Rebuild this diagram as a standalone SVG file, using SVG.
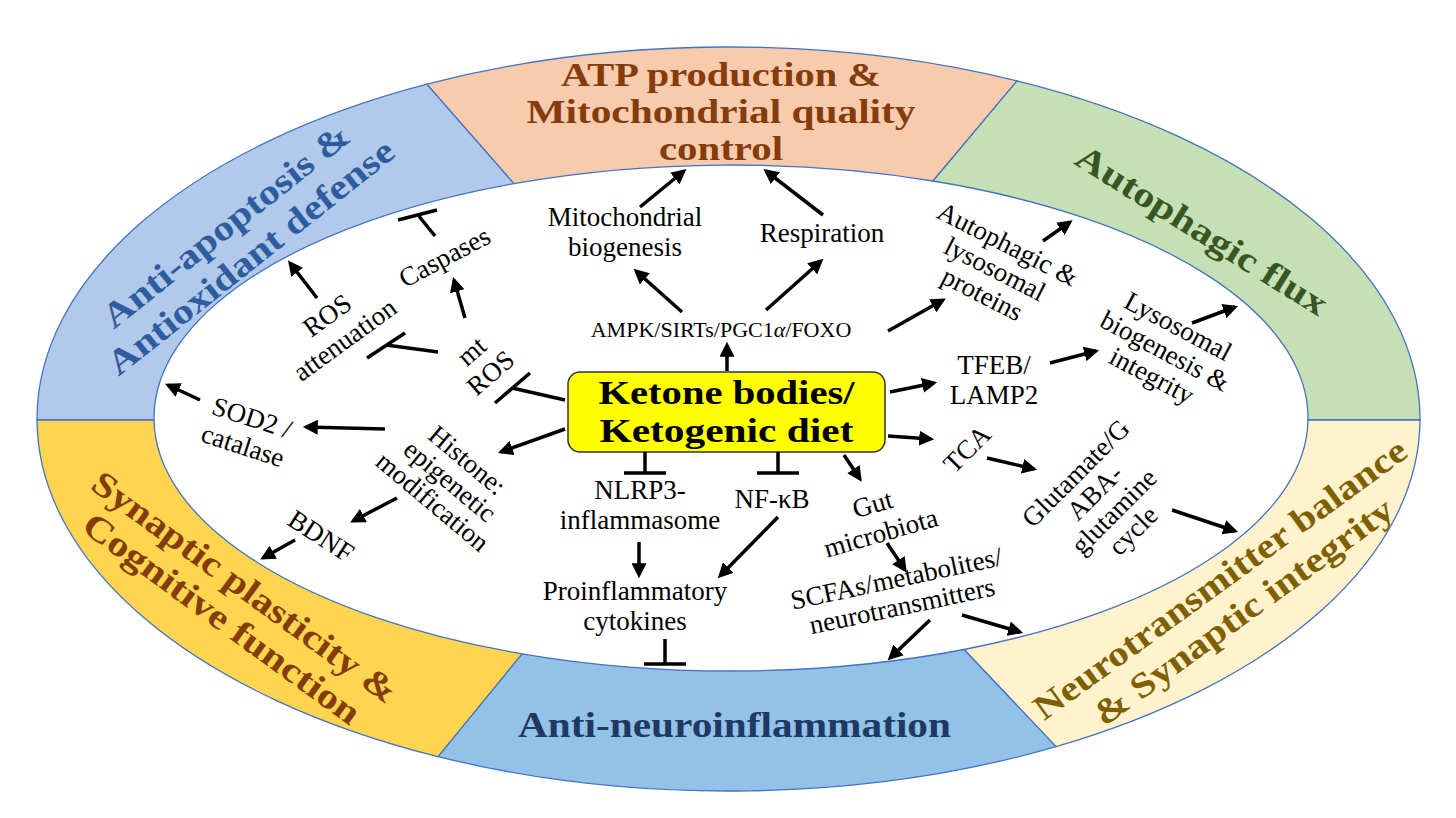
<svg xmlns="http://www.w3.org/2000/svg" width="1456" height="818" viewBox="0 0 1456 818">
<defs>
<marker id="ah" viewBox="0 0 14 14" markerWidth="15" markerHeight="15" refX="11" refY="7" orient="auto" markerUnits="userSpaceOnUse">
<path d="M0,0 L14,7 L0,14 z" fill="#000"/>
</marker>
<style>
.seg{stroke:#4472C4;stroke-width:1.3}
.ring{font-family:"Liberation Serif","DejaVu Serif",serif;font-weight:bold;font-size:35px;text-anchor:middle}
.lbl{font-family:"Liberation Serif","DejaVu Serif",serif;font-size:27px;text-anchor:middle;fill:#000}
.box{font-family:"Liberation Serif","DejaVu Serif",serif;font-weight:bold;font-size:34px;text-anchor:middle;fill:#000}
.ar{stroke:#000;stroke-width:3.5;fill:none;marker-end:url(#ah)}
.inh{stroke:#000;stroke-width:3.5;fill:none}
</style>
</defs>
<rect width="1456" height="818" fill="#fff"/>

<g id="ring-antiapoptosis">
<path class="seg" fill="#B1C9EA" d="M37,420 A691.5,372 0 0 1 427,84.2 L514,183.6 A577,253 0 0 0 154,420 Z"/>
<text class="ring" fill="#2E5C9E" transform="translate(238,241) rotate(-38.5)" x="0" y="-8" textLength="305" lengthAdjust="spacingAndGlyphs">Anti-apoptosis &amp;</text>
<text class="ring" fill="#2E5C9E" transform="translate(238,241) rotate(-38.5)" x="0" y="32" textLength="356" lengthAdjust="spacingAndGlyphs">Antioxidant defense</text>
</g>

<g id="ring-atp">
<path class="seg" fill="#F8CBAD" d="M427,84.2 A691.5,372 0 0 1 1017,80.9 L933,181 A577,253 0 0 0 514,183.6 Z"/>
<text class="ring" fill="#843C0C" x="721" y="86" style="font-size:33px" textLength="320" lengthAdjust="spacingAndGlyphs">ATP production &amp;</text>
<text class="ring" fill="#843C0C" x="721" y="123" style="font-size:33px" textLength="389" lengthAdjust="spacingAndGlyphs">Mitochondrial quality</text>
<text class="ring" fill="#843C0C" x="721" y="160" style="font-size:33px" textLength="124" lengthAdjust="spacingAndGlyphs">control</text>
</g>

<g id="ring-autophagic">
<path class="seg" fill="#C5E0B4" d="M1017,80.9 A691.5,372 0 0 1 1420,420 L1308,420 A577,253 0 0 0 933,181 Z"/>
<text class="ring" fill="#375623" transform="translate(1202,230) rotate(32)" x="0" y="12" textLength="290" lengthAdjust="spacingAndGlyphs">Autophagic flux</text>
</g>

<g id="ring-neurotransmitter">
<path class="seg" fill="#FFF2CC" d="M1420,420 A691.5,372 0 0 1 1056,746.6 L964,649.5 A577,253 0 0 0 1308,420 Z"/>
<text class="ring" fill="#7F6000" transform="translate(1231.5,595) rotate(-36)" x="0" y="-8" textLength="452" lengthAdjust="spacingAndGlyphs">Neurotransmitter balance</text>
<text class="ring" fill="#7F6000" transform="translate(1231.5,595) rotate(-36)" x="0" y="32" textLength="361" lengthAdjust="spacingAndGlyphs">&amp; Synaptic integrity</text>
</g>

<g id="ring-antineuroinflammation">
<path class="seg" fill="#93C2E8" d="M1056,746.6 A691.5,372 0 0 1 438,756.6 L522,653.8 A577,253 0 0 0 964,649.5 Z"/>
<text class="ring" fill="#1F3864" x="734.5" y="737" textLength="433" lengthAdjust="spacingAndGlyphs">Anti-neuroinflammation</text>
</g>

<g id="ring-synaptic">
<path class="seg" fill="#FFD54F" d="M438,756.6 A691.5,372 0 0 1 37,420 L154,420 A577,253 0 0 0 522,653.8 Z"/>
<text class="ring" fill="#843C0C" transform="translate(233.5,602.5) rotate(36)" x="0" y="-7.5" textLength="368" lengthAdjust="spacingAndGlyphs">Synaptic plasticity &amp;</text>
<text class="ring" fill="#843C0C" transform="translate(233.5,602.5) rotate(36)" x="0" y="31.5" textLength="334" lengthAdjust="spacingAndGlyphs">Cognitive function</text>
</g>

<g id="ketone">
<rect x="568" y="372" width="317" height="80" rx="12" ry="12" fill="#FFFF00" stroke="#333" stroke-width="1.5"/>
<text class="box" x="726.5" y="404" textLength="256" lengthAdjust="spacingAndGlyphs">Ketone bodies/</text>
<text class="box" x="726.5" y="442" textLength="254" lengthAdjust="spacingAndGlyphs">Ketogenic diet</text>
</g>

<g id="ampk"><text class="lbl" x="721" y="337" style="font-size:22px">AMPK/SIRTs/PGC1<tspan font-style="italic">α</tspan>/FOXO</text></g>
<g id="mitobio"><text class="lbl"><tspan x="625" y="226">Mitochondrial</tspan><tspan x="625" y="256">biogenesis</tspan></text></g>
<g id="respiration"><text class="lbl" x="822" y="242">Respiration</text></g>
<g id="caspases"><text class="lbl" transform="translate(444.5,257) rotate(-28)" x="0" y="9">Caspases</text></g>
<g id="rosatt"><text class="lbl" transform="translate(336,327.5) rotate(-36)"><tspan x="0" y="-6">ROS</tspan><tspan x="0" y="24">attenuation</tspan></text></g>
<g id="mtros"><text class="lbl" transform="translate(481,362) rotate(-41)"><tspan x="0" y="-5.5">mt</tspan><tspan x="0" y="23.5">ROS</tspan></text></g>
<g id="sod2"><text class="lbl" transform="translate(247.5,431.5) rotate(18)"><tspan x="0" y="-5.5">SOD2 /</tspan><tspan x="0" y="24">catalase</tspan></text></g>
<g id="histone"><text class="lbl" transform="translate(450,481) rotate(40)"><tspan x="0" y="-18">Histone:</tspan><tspan x="0" y="9">epigenetic</tspan><tspan x="0" y="36">modification</tspan></text></g>
<g id="bdnf"><text class="lbl" transform="translate(321,536) rotate(33)" x="0" y="9">BDNF</text></g>
<g id="autolys"><text class="lbl" transform="translate(995,269) rotate(27)"><tspan x="0" y="-19">Autophagic &amp;</tspan><tspan x="0" y="9">lysosomal</tspan><tspan x="0" y="37">proteins</tspan></text></g>
<g id="tfeb"><text class="lbl"><tspan x="994" y="374">TFEB/</tspan><tspan x="994" y="404">LAMP2</tspan></text></g>
<g id="lysobio"><text class="lbl" transform="translate(1165,351) rotate(28)"><tspan x="0" y="-19">Lysosomal</tspan><tspan x="0" y="9">biogenesis &amp;</tspan><tspan x="0" y="37">integrity</tspan></text></g>
<g id="tca"><text class="lbl" transform="translate(967,449) rotate(-45)" x="0" y="9">TCA</text></g>
<g id="glutamate"><text class="lbl" transform="translate(1104,501.5) rotate(-45)"><tspan x="0" y="-31">Glutamate/G</tspan><tspan x="0" y="-4">ABA-</tspan><tspan x="0" y="23">glutamine</tspan><tspan x="0" y="50">cycle</tspan></text></g>
<g id="gut"><text class="lbl" transform="translate(876.7,518.5) rotate(-16)"><tspan x="0" y="-6">Gut</tspan><tspan x="0" y="24">microbiota</tspan></text></g>
<g id="scfas"><text class="lbl" transform="translate(901,601) rotate(-12)"><tspan x="0" y="-14">SCFAs/metabolites/</tspan><tspan x="0" y="14">neurotransmitters</tspan></text></g>
<g id="nlrp3"><text class="lbl"><tspan x="640" y="499">NLRP3-</tspan><tspan x="640" y="529">inflammasome</tspan></text></g>
<g id="nfkb"><text class="lbl" x="772" y="508">NF-κB</text></g>
<g id="cytokines"><text class="lbl"><tspan x="635" y="600">Proinflammatory</tspan><tspan x="635" y="630">cytokines</tspan></text></g>

<g id="connectors">
<line class="ar" x1="727" y1="371" x2="727" y2="345"/>
<line class="ar" x1="682" y1="312" x2="636" y2="271"/>
<line class="ar" x1="766" y1="310" x2="821" y2="261"/>
<line class="ar" x1="640" y1="207" x2="684" y2="171"/>
<line class="ar" x1="823" y1="215" x2="766" y2="171"/>
<line class="ar" x1="888" y1="331" x2="943" y2="300"/>
<line class="ar" x1="1043" y1="241" x2="1070" y2="222"/>
<line class="ar" x1="890" y1="392" x2="934" y2="383"/>
<line class="ar" x1="1050" y1="363" x2="1096" y2="351"/>
<line class="ar" x1="1192" y1="323" x2="1235" y2="307"/>
<line class="ar" x1="888" y1="436" x2="931" y2="439"/>
<line class="ar" x1="987" y1="458" x2="1034" y2="469"/>
<line class="ar" x1="1172" y1="510" x2="1235" y2="531"/>
<line class="ar" x1="844" y1="455" x2="860" y2="479"/>
<line class="ar" x1="887" y1="543" x2="905" y2="570"/>
<line class="ar" x1="930" y1="620" x2="890" y2="658"/>
<line class="ar" x1="962" y1="615" x2="1020" y2="632"/>
<line class="ar" x1="639" y1="542" x2="639" y2="575"/>
<line class="ar" x1="778" y1="517" x2="720" y2="576"/>
<line class="ar" x1="565" y1="429" x2="501" y2="452"/>
<line class="ar" x1="385" y1="429" x2="306" y2="427"/>
<line class="ar" x1="200" y1="400" x2="168" y2="385"/>
<line class="ar" x1="397" y1="498" x2="353" y2="521"/>
<line class="ar" x1="295" y1="540" x2="263" y2="558"/>
<line class="ar" x1="465" y1="318" x2="454" y2="280"/>
<line class="ar" x1="317" y1="298" x2="290" y2="263"/>
<path class="inh" d="M565,400 L512,388 M495,403 L530,373"/>
<path class="inh" d="M438,352 L386,345 M367,358 L405,333"/>
<path class="inh" d="M435,236 L418,215 M398,220 L437,210"/>
<path class="inh" d="M645,452 L645,473 M624,473 L666,473"/>
<path class="inh" d="M778,452 L778,473 M757,473 L799,473"/>
<path class="inh" d="M665,639 L665,664 M644,664 L686,664"/>
</g>
</svg>
